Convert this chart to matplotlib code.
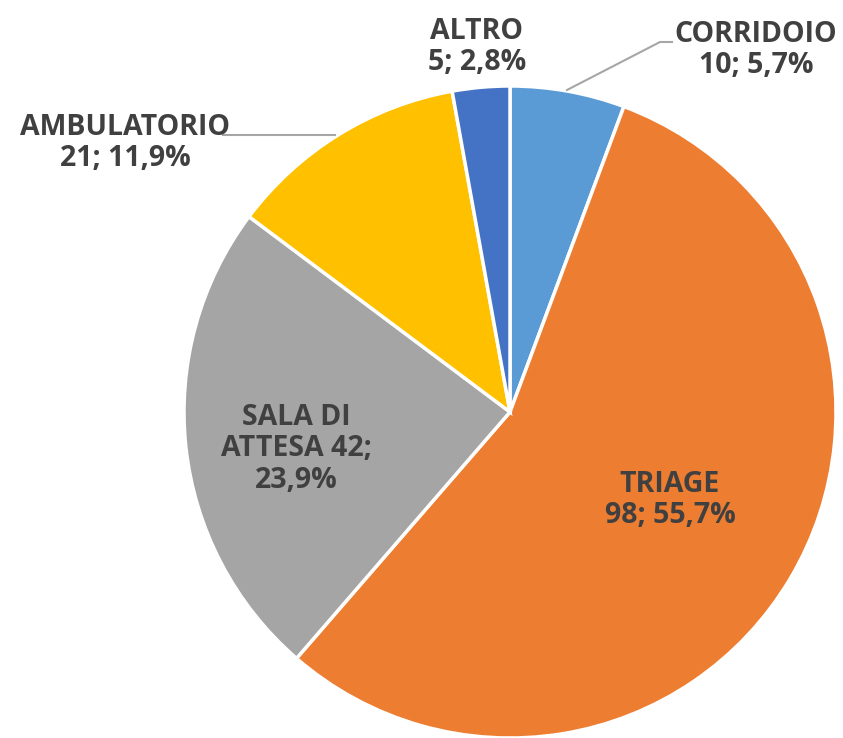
import matplotlib
matplotlib.use("Agg")
import matplotlib.pyplot as plt

labels = ["CORRIDOIO", "TRIAGE", "SALA DI\nATTESA", "AMBULATORIO", "ALTRO"]
values = [10, 98, 42, 21, 5]
colors = ["#5B9BD5", "#ED7D31", "#A5A5A5", "#FFC000", "#4472C4"]

W, H = 843, 738
fig = plt.figure(figsize=(W / 100, H / 100), dpi=100)
ax = fig.add_axes([0, 0, 1, 1])

cx, cy, r = 510, H - 412, 326
ax.pie(values, colors=colors, startangle=90, counterclock=False,
       center=(cx, cy), radius=r, frame=True,
       wedgeprops=dict(edgecolor="white", linewidth=2.5))
ax.set_xlim(0, W)
ax.set_ylim(0, H)
ax.set_aspect("equal")
ax.axis("off")

total = sum(values)
def pct(v):
    return f"{100 * v / total:.1f}".replace(".", ",") + "%"

TXT = "#404040"
kw = dict(ha="center", va="center", fontsize=20.5, fontweight="bold",
          color=TXT, family="Open Sans", linespacing=1.12)

# label positions in pixel coords (y from top)
pos = [(756, 50), (670, 500), (296, 449), (125, 143), (477, 47)]
texts = [
    f"{labels[0]}\n{values[0]}; {pct(values[0])}",
    f"{labels[1]}\n{values[1]}; {pct(values[1])}",
    f"SALA DI\nATTESA {values[2]};\n{pct(values[2])}",
    f"{labels[3]}\n{values[3]}; {pct(values[3])}",
    f"{labels[4]}\n{values[4]}; {pct(values[4])}",
]
for (x, y), t in zip(pos, texts):
    ax.text(x, H - y, t, **kw)

# leader lines
LC = "#A6A6A6"
ax.plot([567, 660, 672], [H - 90, H - 42, H - 42], color=LC, lw=1.5)
ax.plot([223, 335], [H - 135, H - 135], color=LC, lw=1.5)

fig.savefig("out.png", dpi=100)
